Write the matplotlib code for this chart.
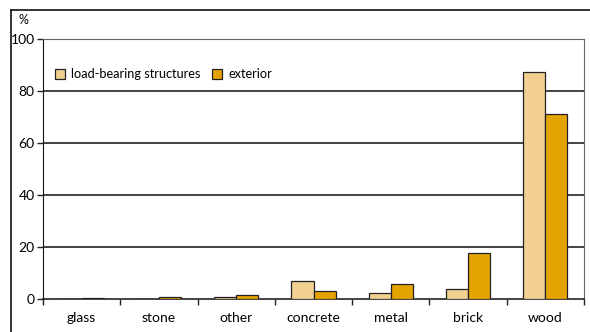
import numpy as np
import matplotlib.pyplot as plt
from matplotlib.lines import Line2D

plt.rcParams['font.family'] = ['Lato', 'DejaVu Sans']

# share of buildings by main material (%)
materials = ["glass", "stone", "other", "concrete", "metal", "brick", "wood"]
load_bearing = [0.0, 0.0, 0.6, 6.9, 2.3, 3.7, 87.1]
exterior = [0.3, 0.7, 1.5, 3.1, 5.8, 17.7, 71.2]

light = "#f2d090"
dark = "#e5a300"

fig = plt.figure(figsize=(5.9, 3.32), dpi=100)
ax = fig.add_axes([43 / 590, 1 - 299 / 332, (584 - 43) / 590, (299 - 38.5) / 332])

x = np.arange(len(materials))
w = 0.285
ax.bar(x - w / 2, load_bearing, w, color=light, edgecolor="#222222", linewidth=0.9,
       label="load-bearing structures", zorder=3)
ax.bar(x + w / 2, exterior, w, color=dark, edgecolor="#222222", linewidth=0.9,
       label="exterior", zorder=3)

ax.set_xlim(-0.5, len(materials) - 0.5)
ax.set_ylim(0, 100)
ax.set_yticks([0, 20, 40, 60, 80, 100])
for y in [20, 40, 60, 80]:
    ax.axhline(y, color="#111111", linewidth=1.1, zorder=1)

# category labels centred, tick marks between categories
ax.set_xticks(x)
ax.set_xticklabels(materials, fontsize=10)
ax.tick_params(axis="x", length=0, pad=9)
ax.set_xticks(np.arange(-0.5, len(materials)), minor=True)
ax.tick_params(axis="x", which="minor", length=4, width=1, color="#222222", direction="out")
ax.tick_params(axis="y", length=4, width=1, labelsize=10, pad=2, color="#222222")

ax.spines["left"].set_color("#111111")
ax.spines["bottom"].set_color("#111111")
ax.spines["bottom"].set_linewidth(1.1)
ax.spines["top"].set_color("#666666")
ax.spines["right"].set_color("#666666")

fig.text(23 / 590, 1 - 20 / 332, "%", fontsize=9, ha="center", va="center")

ax.legend(loc="upper left", bbox_to_anchor=(0.0, 0.93), ncol=2, frameon=False,
          fontsize=9.2, handlelength=0.8, handleheight=0.8, handletextpad=0.5,
          columnspacing=0.9, borderaxespad=0.5)

# outer chart frame
fig.add_artist(Line2D([11 / 590, 11 / 590], [0, 1 - 10 / 332], color="#111111",
                      linewidth=1.2, transform=fig.transFigure))
fig.add_artist(Line2D([11 / 590, 1], [1 - 10 / 332, 1 - 10 / 332], color="#111111",
                      linewidth=1.2, transform=fig.transFigure))

fig.savefig("out.png", dpi=100)
